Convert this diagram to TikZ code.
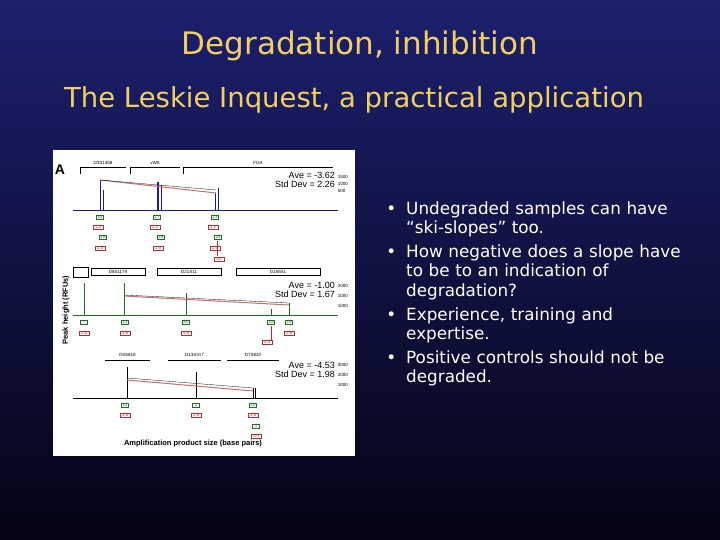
\documentclass[tikz,border=0pt]{standalone}
\usepackage{fontspec}
\setmainfont{DejaVu Sans}
\newfontfamily\arialf{Liberation Sans}
\definecolor{ttl}{HTML}{F2D060}
\definecolor{pk}{HTML}{1A1AA0}
\definecolor{gr}{HTML}{1E6E1E}
\definecolor{rd}{HTML}{B03030}
\begin{document}
\begin{tikzpicture}[x=1pt,y=-1pt,
  ttlstyle/.style={text=ttl,inner sep=0pt},
  bul/.style={text=white,font=\fontsize{16.8}{19.2}\selectfont,anchor=north west,align=left,inner sep=0pt,text width=304pt},
  tiny/.style={font=\arialf\fontsize{4.5}{5}\selectfont,inner sep=0.6pt},
  gbox/.style={tiny,draw=gr,text=gr,line width=0.5pt,minimum width=7pt},
  rbox/.style={tiny,draw=rd,text=rd,line width=0.5pt,minimum width=10pt},
  lbox/.style={tiny,draw=black,line width=0.5pt,minimum height=7pt},
  stat/.style={font=\arialf\fontsize{9}{9.5}\selectfont,anchor=east,inner sep=0pt,align=right},
  slope/.style={draw=rd!70,line width=1pt}]
\shade[top color={rgb,255:red,28;green,32;blue,110}, bottom color={rgb,255:red,4;green,4;blue,20}] (0,0) rectangle (720,540);
\node[ttlstyle,font=\fontsize{31}{36}\selectfont] (t1) at (360,46) {Degradation, inhibition};
\node[ttlstyle,font=\fontsize{27.5}{32}\selectfont] (t2) at (354,100) {The Leskie Inquest, a practical application};
\node[bul] (b) at (384,195) {%
\begin{list}{•}{\leftmargin=22pt\labelwidth=12pt\labelsep=10pt\itemsep=5pt\parsep=0pt\topsep=0pt}
\item Undegraded samples can have “ski-slopes” too.
\item How negative does a slope have to be to an indication of degradation?
\item Experience, training and expertise.
\item Positive controls should not be degraded.
\end{list}};
\begin{scope}[shift={(53,150)}]
\fill[white] (0,0) rectangle (302,306);
\node[font=\arialf\bfseries\fontsize{14}{14}\selectfont,inner sep=0pt] (A) at (7,20) {A};
% panel 1
\foreach \a/\b/\t in {27/73/D3S1358,77/127/vWA,130/280/FGA}{
 \draw[line width=0.5pt] (\a,24)--(\a,17)--(\b,17);
 \node[tiny] at ({(\a+\b)/2},13) {\t};}
\node[stat] (s1) at (282,30) {Ave = -3.62\\Std Dev = 2.26};
\foreach \y/\t in {27/1500,34/1000,41/500}\node[tiny,anchor=west] at (284,\y) {\t};
\draw[pk,line width=0.7pt] (20,60)--(285,60);
\foreach \x/\h in {47/30,50/40,104/32,105/32,108/35,162/43,165/38}\draw[pk,line width=0.8pt] (\x,60)--(\x,\h);
\draw[slope] (47,30)--(163,43); \draw[line width=0.3pt] (47,30)--(163,40);
\foreach \x/\t in {47/14,104/17,162/23}{\node[gbox] at (\x,67) {\t};\node[rbox] at (\x-2,77) {1.2};}
\foreach \x/\t in {50/16,108/18,165/24}{\node[gbox] at (\x,87) {\t};\node[rbox] at (\x-3,98) {1.5};}
\draw[rd,line width=0.4pt] (164,91)--(164,106);
\node[rbox] at (166,109) {30};
% panel 2
\draw[line width=0.5pt] (20,117) rectangle (35,127);
\foreach \a/\b/\t in {38/92/D8S1179,104/168/D21S11,183/267/D18S51}
 \node[lbox,minimum width={(\b-\a)*1pt}] at ({(\a+\b)/2},122) {\t};
\node[stat] (s2) at (282,140) {Ave = -1.00\\Std Dev = 1.67};
\foreach \y/\t in {136/2000,146/1000,156/1000}\node[tiny,anchor=west] at (284,\y) {\t};
\draw[gr,line width=0.7pt] (20,165)--(285,165);
\foreach \x/\h in {31/133,71/133,133/143,218/159,236/153}\draw[gr,line width=0.8pt] (\x,165)--(\x,\h);
\draw[slope] (71,146)--(236,155); \draw[line width=0.3pt] (71,145)--(236,153);
\foreach \x/\t in {31/?,72/13,133/30,218/15,236/19}{\node[gbox] at (\x,172) {\t};}
\foreach \x in {31,72,133,236}\node[rbox] at (\x,183) {1.6};
\draw[rd,line width=0.4pt] (218,176)--(218,190);
\node[rbox] at (214,192) {1.4};
% panel 3
\foreach \a/\b/\t in {52/97/D5S818,115/168/D13S317,174/226/D7S820}{
 \draw[line width=0.5pt] (\a,210)--(\b,210); \node[tiny] at ({(\a+\b)/2},205) {\t};}
\node[stat] (s3) at (282,220) {Ave = -4.53\\Std Dev = 1.98};
\foreach \y/\t in {215/3000,225/2000,235/1000}\node[tiny,anchor=west] at (284,\y) {\t};
\draw[black,line width=0.7pt] (20,248)--(285,248);
\foreach \x/\h in {74/217,143/222,200/238,202/238}\draw[line width=0.8pt] (\x,248)--(\x,\h);
\draw[slope] (74,230)--(200,241); \draw[line width=0.3pt] (74,228)--(200,238);
\foreach \x/\t in {72/11,143/1,200/10}{\node[gbox] at (\x,255) {\t};\node[rbox] at (\x,265) {1.6};}
\node[gbox] at (203,276) {1};\node[rbox] at (203,286) {1.0};
\node[font=\arialf\bfseries\fontsize{7.5}{7.5}\selectfont,rotate=90,inner sep=0pt] (yl) at (13,160) {Peak height (RFUs)};
\node[font=\arialf\bfseries\fontsize{7.5}{7.5}\selectfont,inner sep=0pt] (xl) at (140,294) {Amplification product size (base pairs)};
\end{scope}
\end{tikzpicture}
\end{document}
